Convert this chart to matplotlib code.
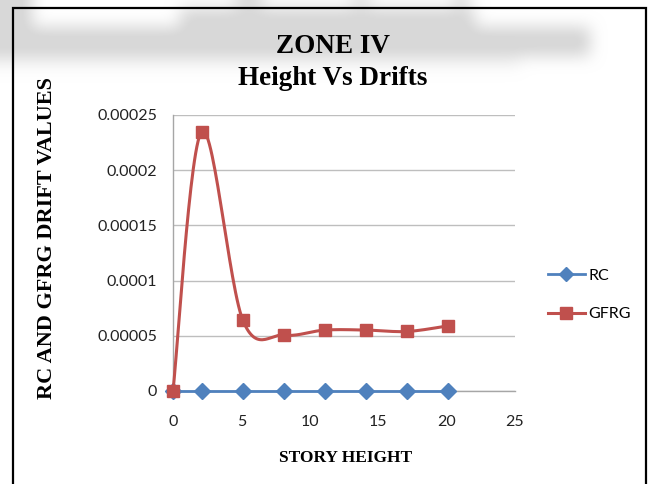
import numpy as np
import matplotlib
matplotlib.use("Agg")
import matplotlib.pyplot as plt
from matplotlib.lines import Line2D
from matplotlib.font_manager import FontProperties

# ---- data -------------------------------------------------------------
story_height = [0, 2.1, 5.1, 8.1, 11.1, 14.1, 17.1, 20.1]
rc_drift = [0, 0, 0, 0, 0, 0, 0, 0]
gfrg_drift = [0, 0.000235, 0.0000643, 0.0000506, 0.0000552, 0.0000552, 0.0000539, 0.000059]
series_names = ["RC", "GFRG"]
x_ticks = [0, 5, 10, 15, 20, 25]
y_ticks = [0, 0.00005, 0.0001, 0.00015, 0.0002, 0.00025]
y_tick_labels = ["0", "0.00005", "0.0001", "0.00015", "0.0002", "0.00025"]

BLUE = "#4F81BD"
RED = "#C0504D"

W, H = 654, 484
fig = plt.figure(figsize=(W / 100, H / 100), dpi=100)


def fx(x):
    return x / W


def fy(y):
    return 1 - y / H


def smooth(xs, ys, steps=30):
    """Bezier smoothing through every point (spreadsheet-style smoothed line)."""
    pts = np.column_stack([xs, ys]).astype(float)
    padded = np.vstack([pts[0], pts, pts[-1]])
    t = np.linspace(0, 1, steps)[:, None]
    out = [pts[:1]]
    for i in range(len(pts) - 1):
        p0, p1, p2, p3 = padded[i], padded[i + 1], padded[i + 2], padded[i + 3]
        c1 = p1 + (p2 - p0) / 6
        c2 = p2 - (p3 - p1) / 6
        seg = ((1 - t) ** 3) * p1 + 3 * ((1 - t) ** 2) * t * c1 \
            + 3 * (1 - t) * t ** 2 * c2 + t ** 3 * p2
        out.append(seg[1:])
    curve = np.vstack(out)
    return curve[:, 0], curve[:, 1]


# ---- soft grey smudge across the top of the page ------------------------
mask = np.zeros((H, W))
for y0, y1, x0, x1, v in [
    (27, 56, 0, 590, 1.0),
    (0, 28, 0, 32, 1.0),
    (8, 28, 180, 475, 0.95),
    (0, 10, 236, 262, 0.8),
    (0, 10, 352, 370, 0.6),
    (0, 14, 455, 467, 0.8),
    (56, 66, 0, 520, 0.35),
]:
    mask[y0:y1, x0:x1] = np.maximum(mask[y0:y1, x0:x1], v)


def box_blur(a, k):
    ker = np.ones(k) / k
    padded = np.pad(a, k, mode="edge")
    padded = np.apply_along_axis(lambda r: np.convolve(r, ker, mode="same"), 1, padded)
    padded = np.apply_along_axis(lambda c: np.convolve(c, ker, mode="same"), 0, padded)
    return padded[k:-k, k:-k]


for _ in range(3):
    mask = box_blur(mask, 15)
rgba = np.zeros((H, W, 4))
rgba[..., :3] = 0.85
rgba[..., 3] = np.clip(mask * 1.1, 0, 1)

bg = fig.add_axes([0, 0, 1, 1], zorder=-1)
bg.imshow(rgba, extent=[0, W, H, 0], interpolation="bilinear")
bg.set_xlim(0, W)
bg.set_ylim(H, 0)
bg.axis("off")

# ---- plot area ------------------------------------------------------------
ax = fig.add_axes([fx(173), fy(391), (515 - 173) / W, (391 - 115) / H], zorder=1)
ax.set_facecolor("none")

tick_font = FontProperties(family="Lato", size=11.5)

sx, sy = smooth(story_height, rc_drift)
ax.plot(sx, sy, color=BLUE, lw=2.0, zorder=3, clip_on=False)
ax.plot(story_height, rc_drift, linestyle="none", marker="D", ms=8, color=BLUE,
        zorder=4, clip_on=False)

sx, sy = smooth(story_height, gfrg_drift)
ax.plot(sx, sy, color=RED, lw=2.2, zorder=5, clip_on=False)
ax.plot(story_height, gfrg_drift, linestyle="none", marker="s", ms=9.2, color=RED,
        zorder=6, clip_on=False)

ax.set_xlim(0, 25)
ax.set_ylim(0, 0.00025)
ax.set_xticks(x_ticks)
ax.set_xticklabels([str(v) for v in x_ticks], fontproperties=tick_font, color="#222222")
ax.set_yticks(y_ticks)
ax.set_yticklabels(y_tick_labels, fontproperties=tick_font, color="#222222")
ax.tick_params(axis="both", length=0)
ax.tick_params(axis="x", pad=17)
ax.tick_params(axis="y", pad=11.5)

ax.yaxis.grid(True, color="#BEBEBE", lw=1.0)
ax.set_axisbelow(True)
for side in ("top", "right"):
    ax.spines[side].set_visible(False)
for side in ("left", "bottom"):
    ax.spines[side].set_color("#A6A6A6")
    ax.spines[side].set_linewidth(1.0)

# ---- legend ----------------------------------------------------------------
handles = [
    Line2D([], [], color=BLUE, lw=2.0, marker="D", ms=7),
    Line2D([], [], color=RED, lw=2.2, marker="s", ms=8.5),
]
fig.legend(handles, series_names, loc="center left", bbox_to_anchor=(fx(548), fy(295)),
           frameon=False, handlelength=2.3, handletextpad=0.25, labelspacing=1.5,
           numpoints=1, borderpad=0, borderaxespad=0, prop=tick_font)

# ---- titles and axis labels ---------------------------------------------------
serif = "Liberation Serif"
fig.text(fx(333), fy(53), "ZONE IV", ha="center", va="baseline",
         fontsize=19.5, family=serif, weight="bold")
fig.text(fx(333), fy(85), "Height Vs Drifts", ha="center", va="baseline",
         fontsize=19.5, family=serif, weight="bold")
fig.text(fx(47), fy(238), "RC AND GFRG DRIFT VALUES", ha="center", va="center",
         rotation=90, fontsize=16, family=serif, weight="bold")
fig.text(fx(346), fy(462), "STORY HEIGHT", ha="center", va="baseline",
         fontsize=12.5, family=serif, weight="bold")

# ---- outer chart frame ------------------------------------------------------------
fig.add_artist(Line2D([fx(13), fx(13), fx(646), fx(646)], [0, fy(8), fy(8), 0],
                      transform=fig.transFigure, color="black", lw=1.6,
                      solid_joinstyle="miter"))

fig.savefig("out.png", dpi=100, facecolor="white")
